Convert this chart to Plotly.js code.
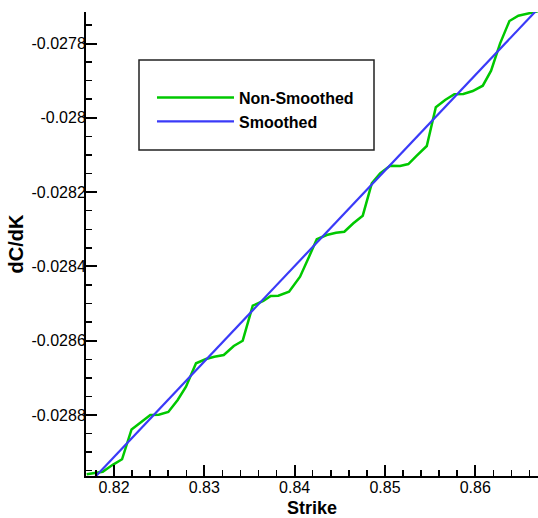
<!DOCTYPE html>
<html>
<head>
<meta charset="utf-8">
<script src="https://cdn.plot.ly/plotly-3.0.1.min.js"></script>
<style>html,body{margin:0;padding:0;background:#fff;}#chart{width:538px;height:518px;}</style>
</head>
<body>
<div id="chart"></div>
<script>
// Non-smoothed dC/dK values
const strikeRaw = [0.81698, 0.81782, 0.81875, 0.81986, 0.82089, 0.82194, 0.82280, 0.82402, 0.82495, 0.82601,
  0.82705, 0.82797, 0.82908, 0.83019, 0.83111, 0.83215, 0.83326, 0.83425, 0.83536, 0.83653,
  0.83735, 0.83819, 0.83938, 0.84060, 0.84152, 0.84245, 0.84355, 0.84458, 0.84550, 0.84650,
  0.84754, 0.84854, 0.84946, 0.85057, 0.85167, 0.85259, 0.85352, 0.85463, 0.85563, 0.85666,
  0.85768, 0.85868, 0.85972, 0.86083, 0.86175, 0.86275, 0.86378, 0.86477, 0.86643, 0.86720];
const dcdkRaw = [-0.0289596, -0.0289569, -0.0289526, -0.0289341, -0.0289192, -0.0288390, -0.0288223, -0.0288000, -0.0287992, -0.0287919,
  -0.0287596, -0.0287238, -0.0286608, -0.0286493, -0.0286431, -0.0286385, -0.0286143, -0.0286000, -0.0285058, -0.0284931,
  -0.0284797, -0.0284789, -0.0284681, -0.0284277, -0.0283782, -0.0283270, -0.0283155, -0.0283093, -0.0283066, -0.0282840,
  -0.0282635, -0.0281763, -0.0281494, -0.0281289, -0.0281295, -0.0281244, -0.0281020, -0.0280759, -0.0279717, -0.0279521,
  -0.0279367, -0.0279359, -0.0279279, -0.0279136, -0.0278732, -0.0277995, -0.0277394, -0.0277252, -0.0277160, -0.0277120];

// Smoothed dC/dK values
const strikeSmooth = [0.8168, 0.82, 0.83, 0.84, 0.85, 0.86, 0.8676];
const dcdkSmooth = [-0.0289953, -0.0289131, -0.0286561, -0.0283991, -0.0281421, -0.0278851, -0.0276897];

// Tick labels
const xTickVals = [0.82, 0.83, 0.84, 0.85, 0.86];
const xTickText = ["0.82", "0.83", "0.84", "0.85", "0.86"];
const yTickVals = [-0.0288, -0.0286, -0.0284, -0.0282, -0.028, -0.0278];
const yTickText = ["-0.0288", "-0.0286", "-0.0284", "-0.0282", "-0.028", "-0.0278"];

const seriesNames = ["Non-Smoothed", "Smoothed"];

const FONT = "Liberation Sans, Arial, Helvetica, sans-serif";

const traces = [
  {x: strikeRaw, y: dcdkRaw, mode: "lines", name: seriesNames[0],
   line: {color: "#00c800", width: 2.5}},
  {x: strikeSmooth, y: dcdkSmooth, mode: "lines", name: seriesNames[1],
   line: {color: "#3a3af8", width: 2.2}}
];

const layout = {
  width: 538, height: 518,
  margin: {l: 86, r: 0, t: 12, b: 42, pad: 0},
  paper_bgcolor: "#ffffff", plot_bgcolor: "#ffffff",
  font: {family: FONT, size: 16, color: "#000"},
  showlegend: true,
  legend: {
    x: 0.146, y: 0.852, xanchor: "left", yanchor: "top",
    bgcolor: "rgba(0,0,0,0)", borderwidth: 0,
    font: {family: FONT, size: 16, color: "#000", weight: "bold"},
    itemwidth: 77, tracegroupgap: 0
  },
  shapes: [{
    type: "rect", xref: "paper", yref: "paper",
    x0: 0.11726, x1: 0.63717, y0: 0.70259, y1: 0.89655,
    line: {color: "#222", width: 1.5}, fillcolor: "#fff", layer: "below"
  }],
  xaxis: {
    range: [0.816899, 0.866944],
    showgrid: false, zeroline: false,
    showline: true, linecolor: "#000", linewidth: 2,
    ticks: "inside", ticklen: 11, tickwidth: 2, tickcolor: "#000",
    tickmode: "array", tickvals: xTickVals, ticktext: xTickText,
    tickfont: {family: FONT, size: 16, color: "#000"},
    ticklabelstandoff: -4,
    minor: {tickmode: "linear", tick0: 0.82, dtick: 0.002, ticks: "inside", ticklen: 6, tickwidth: 1.5, tickcolor: "#000", showgrid: false},
    title: {text: "Strike", font: {family: FONT, size: 18, color: "#000", weight: "bold"}, standoff: 8}
  },
  yaxis: {
    range: [-0.0289642, -0.0277152],
    showgrid: false, zeroline: false,
    showline: true, linecolor: "#000", linewidth: 2,
    ticks: "inside", ticklen: 11, tickwidth: 2, tickcolor: "#000",
    tickmode: "array", tickvals: yTickVals, ticktext: yTickText,
    tickfont: {family: FONT, size: 16, color: "#000"},
    ticklabelstandoff: -5,
    minor: {tickmode: "linear", tick0: -0.028, dtick: 0.00005, ticks: "inside", ticklen: 6, tickwidth: 1.5, tickcolor: "#000", showgrid: false},
    title: {text: "dC/dK", font: {family: FONT, size: 20, color: "#000", weight: "bold"}, standoff: 3}
  }
};

Plotly.newPlot("chart", traces, layout, {displayModeBar: false, staticPlot: true});
</script>
</body>
</html>
